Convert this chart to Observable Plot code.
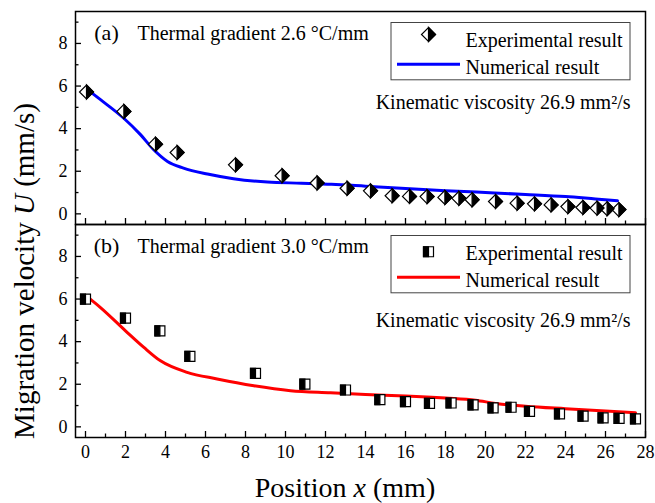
<!DOCTYPE html>
<html><head><meta charset="utf-8">
<script src="https://cdn.jsdelivr.net/npm/d3@7"></script>
<script src="https://cdn.jsdelivr.net/npm/@observablehq/plot@0.6"></script>
<style>
html,body{margin:0;padding:0;background:#fff;}
#chart{width:655px;height:503px;}
#chart svg, #chart svg text{font-family:"Liberation Serif","Times New Roman",Times,serif;}
</style></head><body><div id="chart"></div>
<script>
// ---- data ----
const panels = ["a", "b"];
const panelTags = ["(a)", "(b)"];
const gradientLabels = ["Thermal gradient 2.6 \u00B0C/mm", "Thermal gradient 3.0 \u00B0C/mm"];
const viscosityLabel = "Kinematic viscosity 26.9 mm\u00B2/s";
const legendLabels = ["Experimental result", "Numerical result"];
const xTitle = ["Position ", "x", " (mm)"];
const yTitle = ["Migration velocity ", "U", " (mm/s)"];

const xTicks = [0, 2, 4, 6, 8, 10, 12, 14, 16, 18, 20, 22, 24, 26, 28];
const xMinor = [1, 3, 5, 7, 9, 11, 13, 15, 17, 19, 21, 23, 25, 27];
const yTicks = [0, 2, 4, 6, 8];
const yMinor = [1, 3, 5, 7, 9];

// (a) thermal gradient 2.6
const expA_x = [0.05, 1.92, 3.5, 4.58, 7.5, 9.83, 11.58, 13.08, 14.25, 15.33, 16.2, 17.08, 17.97, 18.67, 19.33, 20.5, 21.58, 22.45, 23.28, 24.12, 24.87, 25.58, 26.08, 26.67];
const expA_y = [5.72, 4.81, 3.27, 2.88, 2.3, 1.79, 1.45, 1.2, 1.08, 0.85, 0.82, 0.81, 0.77, 0.73, 0.66, 0.58, 0.5, 0.47, 0.42, 0.34, 0.3, 0.27, 0.24, 0.2];
const numA_x = [0, 0.75, 1.9, 2.75, 3.4, 4.1, 4.9, 6.1, 7.4, 9.1, 10.8, 12.3, 14, 16, 18, 20, 22, 24, 25.5, 26.6];
const numA_y = [5.9, 5.36, 4.5, 3.72, 3.02, 2.46, 2.15, 1.87, 1.65, 1.49, 1.44, 1.39, 1.3, 1.19, 1.09, 1.0, 0.91, 0.81, 0.7, 0.62];

// (b) thermal gradient 3.0
const expB_x = [0, 2.0, 3.72, 5.22, 8.5, 10.97, 13.0, 14.72, 16.0, 17.2, 18.28, 19.38, 20.38, 21.28, 22.2, 23.7, 24.88, 25.88, 26.68, 27.5];
const expB_y = [6.0, 5.1, 4.51, 3.31, 2.51, 2.01, 1.73, 1.28, 1.18, 1.1, 1.12, 1.03, 0.89, 0.92, 0.73, 0.61, 0.5, 0.42, 0.4, 0.37];
const numB_x = [0, 0.75, 2.0, 2.92, 3.75, 5.08, 6.58, 8.42, 10.25, 12.25, 14, 16, 18, 19.5, 20.5, 22, 24, 26, 27.5];
const numB_y = [6.17, 5.6, 4.51, 3.73, 3.1, 2.56, 2.25, 1.93, 1.7, 1.6, 1.52, 1.45, 1.35, 1.25, 1.1, 0.97, 0.85, 0.74, 0.66];

const lineColors = ["#0000ff", "#ff0000"];

// ---- tables ----
const zip = (fy, xs, ys) => xs.map((x, i) => ({fy, x, y: ys[i]}));
const expA = zip("a", expA_x, expA_y);
const expB = zip("b", expB_x, expB_y);
const numA = zip("a", numA_x, numA_y);
const numB = zip("b", numB_x, numB_y);
const legA = [{fy: "a"}];
const legB = [{fy: "b"}];

// ---- custom half-filled symbols ----
const rOf = (size) => Math.sqrt(size / Math.PI);
const diamondOutline = {draw(c, s) { const r = rOf(s); c.moveTo(0, -r); c.lineTo(r, 0); c.lineTo(0, r); c.lineTo(-r, 0); c.closePath(); }};
const diamondRight = {draw(c, s) { const r = rOf(s); c.moveTo(0, -r); c.lineTo(r, 0); c.lineTo(0, r); c.closePath(); }};
const squareOutline = {draw(c, s) { const r = rOf(s); c.rect(-r, -r, 2 * r, 2 * r); }};
const squareLeft = {draw(c, s) { const r = rOf(s); c.rect(-r, -r, r, 2 * r); }};

const diamondMarks = (data) => [
  Plot.dot(data, {x: "x", y: "y", fy: "fy", symbol: diamondOutline, r: 7, fill: "white", stroke: "black", strokeWidth: 1.2}),
  Plot.dot(data, {x: "x", y: "y", fy: "fy", symbol: diamondRight, r: 7, fill: "black", stroke: "black", strokeWidth: 1.2})
];
const squareMarks = (data) => [
  Plot.dot(data, {x: "x", y: "y", fy: "fy", symbol: squareOutline, r: 5, fill: "white", stroke: "black", strokeWidth: 1.2}),
  Plot.dot(data, {x: "x", y: "y", fy: "fy", symbol: squareLeft, r: 5, fill: "black", stroke: "black", strokeWidth: 1.2})
];

const legendMarks = (leg, i, markerY, markerFn) => [
  Plot.rect(leg, {x1: 15.3, x2: 27.25, y1: 6.27, y2: 8.96, fy: "fy", fill: "white", stroke: "#444", strokeWidth: 1}),
  ...markerFn([{fy: leg[0].fy, x: 17.15, y: markerY}]),
  Plot.ruleY(leg, {y: 7.02, x1: 15.6, x2: 18.75, fy: "fy", stroke: lineColors[i], strokeWidth: 3}),
  Plot.text(leg, {x: 19.0, y: 8.12, fy: "fy", text: () => legendLabels[0], textAnchor: "start", fontSize: 20}),
  Plot.text(leg, {x: 19.0, y: 6.87, fy: "fy", text: () => legendLabels[1], textAnchor: "start", fontSize: 20}),
  Plot.text(leg, {x: 1.05, y: 8.5, fy: "fy", text: () => panelTags[i], textAnchor: "middle", fontSize: 22}),
  Plot.text(leg, {x: 2.6, y: 8.45, fy: "fy", text: () => gradientLabels[i], textAnchor: "start", fontSize: 20}),
  Plot.text(leg, {x: 27.25, y: i === 0 ? 5.2 : 5.0, fy: "fy", text: () => viscosityLabel, textAnchor: "end", fontSize: 20})
];

const chart = Plot.plot({
  width: 655,
  height: 503,
  marginLeft: 75,
  marginRight: 10,
  marginTop: 10,
  marginBottom: 66,
  x: {domain: [-0.5, 28], axis: null},
  y: {domain: [-0.5, 9.5], axis: null},
  fy: {domain: panels, padding: 0, axis: null},
  style: {fontFamily: "'Liberation Serif', 'Times New Roman', Times, serif", background: "white", color: "black"},
  marks: [
    Plot.frame({stroke: "black", strokeWidth: 1.5}),
    Plot.line(numA, {x: "x", y: "y", fy: "fy", stroke: lineColors[0], strokeWidth: 3, curve: "monotone-x"}),
    Plot.line(numB, {x: "x", y: "y", fy: "fy", stroke: lineColors[1], strokeWidth: 3, curve: "monotone-x"}),
    ...diamondMarks(expA),
    ...squareMarks(expB),
    ...legendMarks(legA, 0, 8.42, diamondMarks),
    ...legendMarks(legB, 1, 8.22, squareMarks),
    // inward ticks
    Plot.axisY(yTicks, {tickSize: -6, fill: "none", strokeWidth: 1.3, facetAnchor: null, label: null}),
    Plot.axisY(yMinor, {tickSize: -3.5, fill: "none", strokeWidth: 1.3, facetAnchor: null, label: null}),
    Plot.axisX(xTicks, {tickSize: -6, fill: "none", strokeWidth: 1.3, facetAnchor: null, label: null}),
    Plot.axisX(xMinor, {tickSize: -3.5, fill: "none", strokeWidth: 1.3, facetAnchor: null, label: null}),
    // tick labels
    Plot.axisY(yTicks, {tickSize: 0, tickPadding: 8, fontSize: 18, facetAnchor: null, label: null}),
    Plot.axisX(xTicks, {tickSize: 0, tickPadding: 8, fontSize: 18, facetAnchor: "bottom", label: null})
  ]
});

document.getElementById("chart").appendChild(chart);

// axis titles with italic variables
const svg = d3.select(chart);
function addTitle(parts, x, y, rotate, size) {
  const t = svg.append("text")
    .attr("transform", `translate(${x},${y})` + (rotate ? " rotate(-90)" : ""))
    .attr("text-anchor", "middle")
    .attr("dy", "0.35em")
    .attr("font-family", "Liberation Serif, Times New Roman, serif")
    .attr("font-size", size)
    .attr("fill", "black");
  parts.forEach((p, i) => t.append("tspan").attr("font-style", i === 1 ? "italic" : "normal").text(p));
}
addTitle(xTitle, 345, 487, false, 28);
addTitle(yTitle, 24, 271, true, 29);
</script>
</body></html>
